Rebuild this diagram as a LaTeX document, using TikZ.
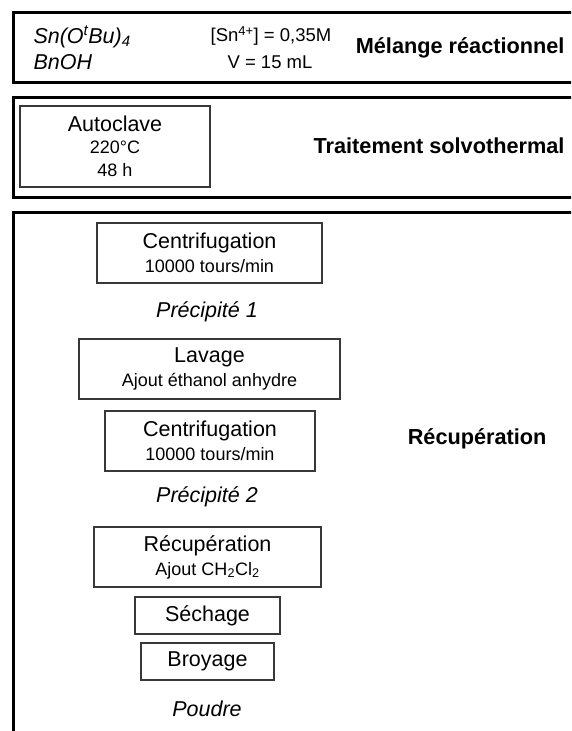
\documentclass[tikz,border=0pt]{standalone}
\usepackage{fontspec}
\setmainfont{Liberation Sans}
\usepackage{tikz}
\usetikzlibrary{positioning}

\newcommand{\mainsize}{\fontsize{21.5}{24}\selectfont}
\newcommand{\detail}[1]{{\fontsize{18}{21}\selectfont #1}}

\begin{document}
\begin{tikzpicture}[x=1pt,y=-1pt,
  stage/.style={draw=black,line width=3.2pt},
  stepbox/.style={draw=black!78,line width=1.1pt,align=center,inner sep=0pt,font=\mainsize},
  product/.style={font=\mainsize\itshape},
  phase/.style={font=\fontsize{21.7}{24}\selectfont\bfseries,anchor=east}]
  \clip (0,0) rectangle (571,731);
  \draw[stage] (13.3,12.5) rectangle (600,82.3);
  \draw[stage] (13.3,97.2) rectangle (600,197.7);
  \draw[stage] (13.3,212.5) rectangle (600,760);
  \node[product,anchor=west] (Sn) at (30,37) {Sn(O\textsuperscript{t}Bu)\textsubscript{4}};
  \node[product,anchor=west] (Bn) at (30,62) {BnOH};
  \node[font=\fontsize{18.5}{21}\selectfont] (Conc) at (271,36) {[Sn\textsuperscript{4+}] = 0,35M};
  \node[font=\fontsize{18.5}{21}\selectfont] (Vol) at (270,62) {V = 15 mL};
  \node[phase] (Melange) at (568,48) {Mélange réactionnel};
  \node[stepbox,minimum width=190,minimum height=81] (Auto) at (115,146.5)
    {Autoclave\\[-2pt] \detail{220°C}\\[-1pt] \detail{48 h}};
  \node[phase] (Solvo) at (568,146) {Traitement solvothermal};
  \node[stepbox,minimum width=225,minimum height=60] (Centri1) at (209.5,253)
    {Centrifugation\\ \detail{10000 tours/min}};
  \node[product] (Prec1) at (207,312) {Précipité 1};
  \node[stepbox,minimum width=261,minimum height=60] (Lavage) at (209.5,369)
    {Lavage\\ \detail{Ajout éthanol anhydre}};
  \node[stepbox,minimum width=210,minimum height=60] (Centri2) at (210,441)
    {Centrifugation\\ \detail{10000 tours/min}};
  \node[product] (Prec2) at (207,497) {Précipité 2};
  \node[stepbox,minimum width=227,minimum height=60] (Recup) at (207.5,557)
    {Récupération\\ \detail{Ajout CH\textsubscript{2}Cl\textsubscript{2}}};
  \node[stepbox,minimum width=145,minimum height=37] (Sechage) at (207.5,615.5) {Séchage};
  \node[stepbox,minimum width=133,minimum height=37] (Broyage) at (207.5,661.5) {Broyage};
  \node[product] (Poudre) at (207,709) {Poudre};
  \node[phase] (Recuperation) at (550,439) {Récupération};
\end{tikzpicture}
\end{document}
